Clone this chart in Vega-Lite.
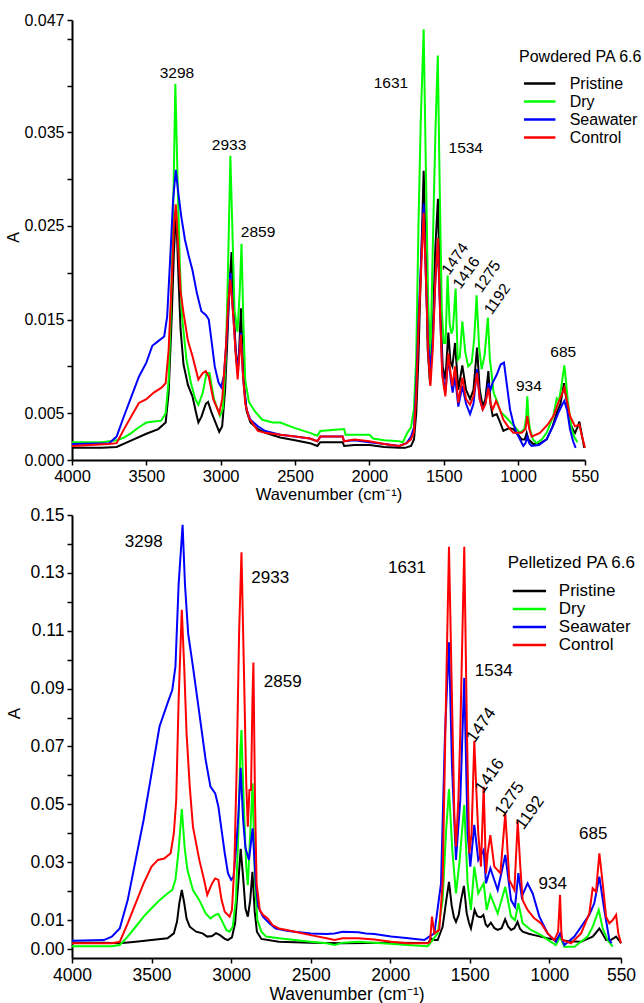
{
  "$schema": "https://vega.github.io/schema/vega-lite/v6.json",
  "background": "white",
  "padding": {"left": 5, "top": 12, "right": 0, "bottom": 0},
  "bounds": "flush",
  "spacing": 55,
  "config": {
    "view": {"stroke": null},
    "font": "Liberation Sans",
    "axis": {"domainColor": "black", "domainWidth": 2, "tickColor": "black", "tickWidth": 1.5, "tickSize": 5, "labelColor": "black", "titleColor": "black", "labelFont": "Liberation Sans", "titleFont": "Liberation Sans", "titleFontWeight": "normal", "grid": false, "labelOverlap": false, "labelBound": false, "labelFlush": false},
    "legend": {"titleFont": "Liberation Sans", "labelFont": "Liberation Sans", "titleFontWeight": "normal", "titleColor": "black", "labelColor": "black", "padding": 0}
  },
  "resolve": {"scale": {"color": "independent", "x": "independent", "y": "independent"}, "axis": {"x": "independent", "y": "independent"}, "legend": {"color": "independent"}},
  "datasets": {
    "powdered": [
      {"s":"Pristine","w":4000,"a":0.0013},{"s":"Pristine","w":3800,"a":0.0013},{"s":"Pristine","w":3700,"a":0.0014},{"s":"Pristine","w":3600,"a":0.0021},{"s":"Pristine","w":3500,"a":0.0028},{"s":"Pristine","w":3420,"a":0.0033},{"s":"Pristine","w":3370,"a":0.004},{"s":"Pristine","w":3350,"a":0.0072},{"s":"Pristine","w":3330,"a":0.015},{"s":"Pristine","w":3315,"a":0.022},{"s":"Pristine","w":3300,"a":0.0268},{"s":"Pristine","w":3285,"a":0.02},{"s":"Pristine","w":3270,"a":0.014},{"s":"Pristine","w":3250,"a":0.0102},{"s":"Pristine","w":3220,"a":0.008},{"s":"Pristine","w":3190,"a":0.0068},{"s":"Pristine","w":3165,"a":0.005},{"s":"Pristine","w":3150,"a":0.004},{"s":"Pristine","w":3130,"a":0.0046},{"s":"Pristine","w":3100,"a":0.006},{"s":"Pristine","w":3085,"a":0.0062},{"s":"Pristine","w":3060,"a":0.005},{"s":"Pristine","w":3030,"a":0.0038},{"s":"Pristine","w":3010,"a":0.003},{"s":"Pristine","w":2990,"a":0.0036},{"s":"Pristine","w":2970,"a":0.0075},{"s":"Pristine","w":2955,"a":0.013},{"s":"Pristine","w":2940,"a":0.019},{"s":"Pristine","w":2927,"a":0.0222},{"s":"Pristine","w":2915,"a":0.017},{"s":"Pristine","w":2900,"a":0.012},{"s":"Pristine","w":2887,"a":0.0093},{"s":"Pristine","w":2875,"a":0.012},{"s":"Pristine","w":2864,"a":0.0162},{"s":"Pristine","w":2852,"a":0.011},{"s":"Pristine","w":2840,"a":0.0075},{"s":"Pristine","w":2825,"a":0.0052},{"s":"Pristine","w":2800,"a":0.004},{"s":"Pristine","w":2750,"a":0.0033},{"s":"Pristine","w":2700,"a":0.0029},{"s":"Pristine","w":2600,"a":0.0024},{"s":"Pristine","w":2500,"a":0.0021},{"s":"Pristine","w":2400,"a":0.0018},{"s":"Pristine","w":2350,"a":0.0015},{"s":"Pristine","w":2330,"a":0.0019},{"s":"Pristine","w":2250,"a":0.0019},{"s":"Pristine","w":2180,"a":0.0019},{"s":"Pristine","w":2170,"a":0.0015},{"s":"Pristine","w":2100,"a":0.0016},{"s":"Pristine","w":2000,"a":0.0016},{"s":"Pristine","w":1900,"a":0.0014},{"s":"Pristine","w":1800,"a":0.0013},{"s":"Pristine","w":1760,"a":0.0013},{"s":"Pristine","w":1720,"a":0.0015},{"s":"Pristine","w":1700,"a":0.0022},{"s":"Pristine","w":1685,"a":0.005},{"s":"Pristine","w":1670,"a":0.011},{"s":"Pristine","w":1653,"a":0.0207},{"s":"Pristine","w":1635,"a":0.0309},{"s":"Pristine","w":1619,"a":0.0207},{"s":"Pristine","w":1608,"a":0.0118},{"s":"Pristine","w":1592,"a":0.0081},{"s":"Pristine","w":1574,"a":0.0136},{"s":"Pristine","w":1557,"a":0.0225},{"s":"Pristine","w":1539,"a":0.0279},{"s":"Pristine","w":1525,"a":0.0171},{"s":"Pristine","w":1507,"a":0.01},{"s":"Pristine","w":1489,"a":0.0086},{"s":"Pristine","w":1469,"a":0.0136},{"s":"Pristine","w":1455,"a":0.0105},{"s":"Pristine","w":1442,"a":0.01},{"s":"Pristine","w":1424,"a":0.0125},{"s":"Pristine","w":1402,"a":0.0075},{"s":"Pristine","w":1375,"a":0.0101},{"s":"Pristine","w":1350,"a":0.0075},{"s":"Pristine","w":1323,"a":0.0065},{"s":"Pristine","w":1300,"a":0.0075},{"s":"Pristine","w":1276,"a":0.012},{"s":"Pristine","w":1258,"a":0.0075},{"s":"Pristine","w":1238,"a":0.0057},{"s":"Pristine","w":1220,"a":0.0065},{"s":"Pristine","w":1200,"a":0.0095},{"s":"Pristine","w":1185,"a":0.006},{"s":"Pristine","w":1171,"a":0.0047},{"s":"Pristine","w":1144,"a":0.0049},{"s":"Pristine","w":1120,"a":0.004},{"s":"Pristine","w":1099,"a":0.0031},{"s":"Pristine","w":1060,"a":0.0034},{"s":"Pristine","w":1032,"a":0.0033},{"s":"Pristine","w":1000,"a":0.0027},{"s":"Pristine","w":976,"a":0.0022},{"s":"Pristine","w":955,"a":0.0022},{"s":"Pristine","w":942,"a":0.0029},{"s":"Pristine","w":930,"a":0.0022},{"s":"Pristine","w":897,"a":0.0017},{"s":"Pristine","w":850,"a":0.0018},{"s":"Pristine","w":808,"a":0.0022},{"s":"Pristine","w":770,"a":0.0035},{"s":"Pristine","w":741,"a":0.005},{"s":"Pristine","w":715,"a":0.006},{"s":"Pristine","w":691,"a":0.0082},{"s":"Pristine","w":670,"a":0.006},{"s":"Pristine","w":651,"a":0.004},{"s":"Pristine","w":630,"a":0.0032},{"s":"Pristine","w":617,"a":0.0029},{"s":"Pristine","w":600,"a":0.0035},{"s":"Pristine","w":588,"a":0.0041},{"s":"Pristine","w":575,"a":0.003},{"s":"Pristine","w":555,"a":0.0013},
      {"s":"Dry","w":4000,"a":0.0019},{"s":"Dry","w":3800,"a":0.0019},{"s":"Dry","w":3700,"a":0.0021},{"s":"Dry","w":3650,"a":0.0024},{"s":"Dry","w":3600,"a":0.0029},{"s":"Dry","w":3550,"a":0.0035},{"s":"Dry","w":3500,"a":0.004},{"s":"Dry","w":3450,"a":0.0041},{"s":"Dry","w":3400,"a":0.0042},{"s":"Dry","w":3370,"a":0.005},{"s":"Dry","w":3350,"a":0.0085},{"s":"Dry","w":3335,"a":0.016},{"s":"Dry","w":3320,"a":0.026},{"s":"Dry","w":3305,"a":0.0402},{"s":"Dry","w":3290,"a":0.03},{"s":"Dry","w":3275,"a":0.021},{"s":"Dry","w":3260,"a":0.0153},{"s":"Dry","w":3230,"a":0.0107},{"s":"Dry","w":3200,"a":0.0082},{"s":"Dry","w":3170,"a":0.0065},{"s":"Dry","w":3150,"a":0.0059},{"s":"Dry","w":3120,"a":0.0072},{"s":"Dry","w":3095,"a":0.0093},{"s":"Dry","w":3075,"a":0.0093},{"s":"Dry","w":3045,"a":0.0065},{"s":"Dry","w":3005,"a":0.0047},{"s":"Dry","w":2985,"a":0.0055},{"s":"Dry","w":2965,"a":0.011},{"s":"Dry","w":2950,"a":0.021},{"s":"Dry","w":2935,"a":0.0325},{"s":"Dry","w":2922,"a":0.025},{"s":"Dry","w":2907,"a":0.016},{"s":"Dry","w":2887,"a":0.0137},{"s":"Dry","w":2872,"a":0.018},{"s":"Dry","w":2860,"a":0.0231},{"s":"Dry","w":2848,"a":0.015},{"s":"Dry","w":2835,"a":0.0085},{"s":"Dry","w":2810,"a":0.0062},{"s":"Dry","w":2770,"a":0.0052},{"s":"Dry","w":2720,"a":0.0043},{"s":"Dry","w":2650,"a":0.004},{"s":"Dry","w":2600,"a":0.004},{"s":"Dry","w":2500,"a":0.0034},{"s":"Dry","w":2400,"a":0.0029},{"s":"Dry","w":2350,"a":0.0026},{"s":"Dry","w":2330,"a":0.0031},{"s":"Dry","w":2250,"a":0.0032},{"s":"Dry","w":2170,"a":0.0033},{"s":"Dry","w":2160,"a":0.0027},{"s":"Dry","w":2050,"a":0.0027},{"s":"Dry","w":2000,"a":0.0027},{"s":"Dry","w":1975,"a":0.0023},{"s":"Dry","w":1900,"a":0.0021},{"s":"Dry","w":1800,"a":0.002},{"s":"Dry","w":1775,"a":0.0019},{"s":"Dry","w":1745,"a":0.0029},{"s":"Dry","w":1720,"a":0.0035},{"s":"Dry","w":1700,"a":0.0055},{"s":"Dry","w":1685,"a":0.011},{"s":"Dry","w":1670,"a":0.025},{"s":"Dry","w":1655,"a":0.036},{"s":"Dry","w":1635,"a":0.046},{"s":"Dry","w":1620,"a":0.031},{"s":"Dry","w":1605,"a":0.017},{"s":"Dry","w":1590,"a":0.0105},{"s":"Dry","w":1572,"a":0.024},{"s":"Dry","w":1556,"a":0.035},{"s":"Dry","w":1540,"a":0.0432},{"s":"Dry","w":1527,"a":0.029},{"s":"Dry","w":1513,"a":0.016},{"s":"Dry","w":1500,"a":0.0125},{"s":"Dry","w":1488,"a":0.0125},{"s":"Dry","w":1474,"a":0.0197},{"s":"Dry","w":1460,"a":0.0145},{"s":"Dry","w":1448,"a":0.0135},{"s":"Dry","w":1438,"a":0.014},{"s":"Dry","w":1420,"a":0.0183},{"s":"Dry","w":1406,"a":0.0107},{"s":"Dry","w":1392,"a":0.011},{"s":"Dry","w":1375,"a":0.0148},{"s":"Dry","w":1355,"a":0.0115},{"s":"Dry","w":1335,"a":0.01},{"s":"Dry","w":1312,"a":0.0104},{"s":"Dry","w":1295,"a":0.013},{"s":"Dry","w":1279,"a":0.0176},{"s":"Dry","w":1262,"a":0.012},{"s":"Dry","w":1245,"a":0.0097},{"s":"Dry","w":1225,"a":0.0112},{"s":"Dry","w":1203,"a":0.0152},{"s":"Dry","w":1190,"a":0.0108},{"s":"Dry","w":1180,"a":0.0095},{"s":"Dry","w":1165,"a":0.0072},{"s":"Dry","w":1140,"a":0.0062},{"s":"Dry","w":1120,"a":0.0052},{"s":"Dry","w":1090,"a":0.0047},{"s":"Dry","w":1054,"a":0.0041},{"s":"Dry","w":1020,"a":0.0035},{"s":"Dry","w":987,"a":0.0029},{"s":"Dry","w":958,"a":0.0033},{"s":"Dry","w":946,"a":0.0045},{"s":"Dry","w":938,"a":0.0068},{"s":"Dry","w":930,"a":0.0045},{"s":"Dry","w":920,"a":0.0033},{"s":"Dry","w":900,"a":0.0022},{"s":"Dry","w":875,"a":0.0018},{"s":"Dry","w":840,"a":0.0022},{"s":"Dry","w":808,"a":0.0029},{"s":"Dry","w":763,"a":0.0047},{"s":"Dry","w":740,"a":0.0066},{"s":"Dry","w":725,"a":0.0063},{"s":"Dry","w":705,"a":0.0083},{"s":"Dry","w":689,"a":0.0101},{"s":"Dry","w":677,"a":0.0083},{"s":"Dry","w":665,"a":0.0062},{"s":"Dry","w":640,"a":0.0033},{"s":"Dry","w":620,"a":0.0024},{"s":"Dry","w":601,"a":0.0019},
      {"s":"Seawater","w":4000,"a":0.0017},{"s":"Seawater","w":3750,"a":0.0018},{"s":"Seawater","w":3700,"a":0.0025},{"s":"Seawater","w":3650,"a":0.0047},{"s":"Seawater","w":3600,"a":0.0068},{"s":"Seawater","w":3550,"a":0.0089},{"s":"Seawater","w":3500,"a":0.0104},{"s":"Seawater","w":3460,"a":0.0122},{"s":"Seawater","w":3420,"a":0.0127},{"s":"Seawater","w":3380,"a":0.0132},{"s":"Seawater","w":3360,"a":0.0153},{"s":"Seawater","w":3340,"a":0.0214},{"s":"Seawater","w":3320,"a":0.0278},{"s":"Seawater","w":3302,"a":0.031},{"s":"Seawater","w":3285,"a":0.0285},{"s":"Seawater","w":3265,"a":0.026},{"s":"Seawater","w":3240,"a":0.0235},{"s":"Seawater","w":3215,"a":0.0218},{"s":"Seawater","w":3190,"a":0.0203},{"s":"Seawater","w":3160,"a":0.0178},{"s":"Seawater","w":3130,"a":0.0159},{"s":"Seawater","w":3100,"a":0.0155},{"s":"Seawater","w":3080,"a":0.015},{"s":"Seawater","w":3060,"a":0.0125},{"s":"Seawater","w":3040,"a":0.01},{"s":"Seawater","w":3015,"a":0.0083},{"s":"Seawater","w":2997,"a":0.0078},{"s":"Seawater","w":2978,"a":0.009},{"s":"Seawater","w":2958,"a":0.0135},{"s":"Seawater","w":2935,"a":0.02},{"s":"Seawater","w":2915,"a":0.0153},{"s":"Seawater","w":2895,"a":0.0107},{"s":"Seawater","w":2883,"a":0.01},{"s":"Seawater","w":2865,"a":0.0136},{"s":"Seawater","w":2848,"a":0.0085},{"s":"Seawater","w":2828,"a":0.0055},{"s":"Seawater","w":2800,"a":0.0043},{"s":"Seawater","w":2750,"a":0.0036},{"s":"Seawater","w":2700,"a":0.0031},{"s":"Seawater","w":2600,"a":0.0027},{"s":"Seawater","w":2500,"a":0.0025},{"s":"Seawater","w":2400,"a":0.0023},{"s":"Seawater","w":2350,"a":0.002},{"s":"Seawater","w":2330,"a":0.0025},{"s":"Seawater","w":2180,"a":0.0025},{"s":"Seawater","w":2170,"a":0.002},{"s":"Seawater","w":2100,"a":0.0021},{"s":"Seawater","w":2000,"a":0.0019},{"s":"Seawater","w":1900,"a":0.0017},{"s":"Seawater","w":1800,"a":0.0015},{"s":"Seawater","w":1750,"a":0.0018},{"s":"Seawater","w":1720,"a":0.0025},{"s":"Seawater","w":1700,"a":0.0035},{"s":"Seawater","w":1685,"a":0.008},{"s":"Seawater","w":1670,"a":0.015},{"s":"Seawater","w":1653,"a":0.021},{"s":"Seawater","w":1635,"a":0.0274},{"s":"Seawater","w":1619,"a":0.019},{"s":"Seawater","w":1605,"a":0.0125},{"s":"Seawater","w":1590,"a":0.0097},{"s":"Seawater","w":1573,"a":0.013},{"s":"Seawater","w":1557,"a":0.019},{"s":"Seawater","w":1539,"a":0.0232},{"s":"Seawater","w":1525,"a":0.016},{"s":"Seawater","w":1510,"a":0.0095},{"s":"Seawater","w":1489,"a":0.0072},{"s":"Seawater","w":1469,"a":0.011},{"s":"Seawater","w":1452,"a":0.0085},{"s":"Seawater","w":1440,"a":0.0072},{"s":"Seawater","w":1424,"a":0.0089},{"s":"Seawater","w":1402,"a":0.0057},{"s":"Seawater","w":1375,"a":0.0079},{"s":"Seawater","w":1350,"a":0.006},{"s":"Seawater","w":1323,"a":0.0049},{"s":"Seawater","w":1300,"a":0.006},{"s":"Seawater","w":1276,"a":0.0097},{"s":"Seawater","w":1258,"a":0.0065},{"s":"Seawater","w":1238,"a":0.0054},{"s":"Seawater","w":1220,"a":0.006},{"s":"Seawater","w":1200,"a":0.0082},{"s":"Seawater","w":1185,"a":0.0075},{"s":"Seawater","w":1170,"a":0.0083},{"s":"Seawater","w":1160,"a":0.0086},{"s":"Seawater","w":1144,"a":0.0091},{"s":"Seawater","w":1117,"a":0.0102},{"s":"Seawater","w":1095,"a":0.0104},{"s":"Seawater","w":1077,"a":0.0082},{"s":"Seawater","w":1054,"a":0.0054},{"s":"Seawater","w":1030,"a":0.0038},{"s":"Seawater","w":1010,"a":0.0029},{"s":"Seawater","w":965,"a":0.0015},{"s":"Seawater","w":950,"a":0.0018},{"s":"Seawater","w":938,"a":0.0025},{"s":"Seawater","w":925,"a":0.0018},{"s":"Seawater","w":909,"a":0.0015},{"s":"Seawater","w":860,"a":0.0016},{"s":"Seawater","w":808,"a":0.0022},{"s":"Seawater","w":760,"a":0.0038},{"s":"Seawater","w":730,"a":0.005},{"s":"Seawater","w":700,"a":0.006},{"s":"Seawater","w":689,"a":0.0063},{"s":"Seawater","w":670,"a":0.0053},{"s":"Seawater","w":651,"a":0.0033},{"s":"Seawater","w":630,"a":0.002},{"s":"Seawater","w":613,"a":0.0013},
      {"s":"Control","w":4000,"a":0.0015},{"s":"Control","w":3750,"a":0.0017},{"s":"Control","w":3700,"a":0.0018},{"s":"Control","w":3650,"a":0.0033},{"s":"Control","w":3600,"a":0.0047},{"s":"Control","w":3550,"a":0.0061},{"s":"Control","w":3500,"a":0.0065},{"s":"Control","w":3450,"a":0.0072},{"s":"Control","w":3400,"a":0.0077},{"s":"Control","w":3370,"a":0.0082},{"s":"Control","w":3350,"a":0.0118},{"s":"Control","w":3330,"a":0.019},{"s":"Control","w":3315,"a":0.025},{"s":"Control","w":3302,"a":0.0273},{"s":"Control","w":3285,"a":0.0225},{"s":"Control","w":3270,"a":0.018},{"s":"Control","w":3250,"a":0.0157},{"s":"Control","w":3220,"a":0.0127},{"s":"Control","w":3190,"a":0.0111},{"s":"Control","w":3150,"a":0.0086},{"s":"Control","w":3120,"a":0.0093},{"s":"Control","w":3100,"a":0.0095},{"s":"Control","w":3080,"a":0.0089},{"s":"Control","w":3050,"a":0.0065},{"s":"Control","w":3010,"a":0.005},{"s":"Control","w":2990,"a":0.0065},{"s":"Control","w":2965,"a":0.012},{"s":"Control","w":2950,"a":0.0165},{"s":"Control","w":2935,"a":0.0193},{"s":"Control","w":2915,"a":0.0153},{"s":"Control","w":2900,"a":0.0115},{"s":"Control","w":2886,"a":0.0086},{"s":"Control","w":2875,"a":0.011},{"s":"Control","w":2865,"a":0.0134},{"s":"Control","w":2852,"a":0.0095},{"s":"Control","w":2835,"a":0.006},{"s":"Control","w":2810,"a":0.0045},{"s":"Control","w":2750,"a":0.0031},{"s":"Control","w":2700,"a":0.0029},{"s":"Control","w":2600,"a":0.0027},{"s":"Control","w":2500,"a":0.0025},{"s":"Control","w":2400,"a":0.0023},{"s":"Control","w":2350,"a":0.002},{"s":"Control","w":2330,"a":0.0025},{"s":"Control","w":2180,"a":0.0025},{"s":"Control","w":2170,"a":0.002},{"s":"Control","w":2100,"a":0.0022},{"s":"Control","w":2000,"a":0.002},{"s":"Control","w":1900,"a":0.0017},{"s":"Control","w":1800,"a":0.0015},{"s":"Control","w":1750,"a":0.0018},{"s":"Control","w":1720,"a":0.0022},{"s":"Control","w":1700,"a":0.003},{"s":"Control","w":1685,"a":0.007},{"s":"Control","w":1670,"a":0.014},{"s":"Control","w":1653,"a":0.02},{"s":"Control","w":1635,"a":0.0264},{"s":"Control","w":1619,"a":0.019},{"s":"Control","w":1605,"a":0.0115},{"s":"Control","w":1590,"a":0.0079},{"s":"Control","w":1573,"a":0.012},{"s":"Control","w":1557,"a":0.019},{"s":"Control","w":1539,"a":0.0237},{"s":"Control","w":1525,"a":0.016},{"s":"Control","w":1510,"a":0.009},{"s":"Control","w":1489,"a":0.0068},{"s":"Control","w":1469,"a":0.0114},{"s":"Control","w":1452,"a":0.009},{"s":"Control","w":1442,"a":0.0079},{"s":"Control","w":1424,"a":0.01},{"s":"Control","w":1402,"a":0.0061},{"s":"Control","w":1375,"a":0.0088},{"s":"Control","w":1350,"a":0.0065},{"s":"Control","w":1323,"a":0.0059},{"s":"Control","w":1300,"a":0.0068},{"s":"Control","w":1276,"a":0.0093},{"s":"Control","w":1258,"a":0.0065},{"s":"Control","w":1238,"a":0.0054},{"s":"Control","w":1220,"a":0.006},{"s":"Control","w":1200,"a":0.0077},{"s":"Control","w":1185,"a":0.006},{"s":"Control","w":1171,"a":0.0054},{"s":"Control","w":1148,"a":0.0063},{"s":"Control","w":1125,"a":0.0055},{"s":"Control","w":1099,"a":0.0043},{"s":"Control","w":1060,"a":0.0034},{"s":"Control","w":1032,"a":0.0029},{"s":"Control","w":976,"a":0.0029},{"s":"Control","w":950,"a":0.0033},{"s":"Control","w":938,"a":0.0047},{"s":"Control","w":925,"a":0.0033},{"s":"Control","w":909,"a":0.0025},{"s":"Control","w":853,"a":0.0029},{"s":"Control","w":800,"a":0.0038},{"s":"Control","w":763,"a":0.0047},{"s":"Control","w":730,"a":0.0061},{"s":"Control","w":705,"a":0.007},{"s":"Control","w":689,"a":0.0077},{"s":"Control","w":670,"a":0.0062},{"s":"Control","w":651,"a":0.0047},{"s":"Control","w":630,"a":0.004},{"s":"Control","w":617,"a":0.0036},{"s":"Control","w":600,"a":0.0037},{"s":"Control","w":588,"a":0.0038},{"s":"Control","w":570,"a":0.0025},{"s":"Control","w":550,"a":0.0013}
    ],
    "pelletized": [
      {"s":"Pristine","w":4000,"a":0.0022},{"s":"Pristine","w":3800,"a":0.0022},{"s":"Pristine","w":3700,"a":0.002},{"s":"Pristine","w":3600,"a":0.0025},{"s":"Pristine","w":3500,"a":0.0031},{"s":"Pristine","w":3400,"a":0.0037},{"s":"Pristine","w":3360,"a":0.0054},{"s":"Pristine","w":3340,"a":0.0095},{"s":"Pristine","w":3325,"a":0.016},{"s":"Pristine","w":3310,"a":0.0204},{"s":"Pristine","w":3295,"a":0.016},{"s":"Pristine","w":3280,"a":0.0105},{"s":"Pristine","w":3260,"a":0.0077},{"s":"Pristine","w":3220,"a":0.006},{"s":"Pristine","w":3180,"a":0.0054},{"s":"Pristine","w":3150,"a":0.0043},{"s":"Pristine","w":3120,"a":0.0045},{"s":"Pristine","w":3095,"a":0.0055},{"s":"Pristine","w":3070,"a":0.0048},{"s":"Pristine","w":3040,"a":0.0035},{"s":"Pristine","w":3020,"a":0.0031},{"s":"Pristine","w":2995,"a":0.004},{"s":"Pristine","w":2975,"a":0.009},{"s":"Pristine","w":2955,"a":0.023},{"s":"Pristine","w":2940,"a":0.0346},{"s":"Pristine","w":2925,"a":0.025},{"s":"Pristine","w":2910,"a":0.014},{"s":"Pristine","w":2895,"a":0.0112},{"s":"Pristine","w":2880,"a":0.0169},{"s":"Pristine","w":2866,"a":0.0267},{"s":"Pristine","w":2852,"a":0.013},{"s":"Pristine","w":2838,"a":0.006},{"s":"Pristine","w":2810,"a":0.0035},{"s":"Pristine","w":2700,"a":0.0025},{"s":"Pristine","w":2500,"a":0.0022},{"s":"Pristine","w":2300,"a":0.002},{"s":"Pristine","w":2000,"a":0.0022},{"s":"Pristine","w":1800,"a":0.0021},{"s":"Pristine","w":1760,"a":0.0022},{"s":"Pristine","w":1744,"a":0.0037},{"s":"Pristine","w":1725,"a":0.0031},{"s":"Pristine","w":1702,"a":0.0031},{"s":"Pristine","w":1671,"a":0.0077},{"s":"Pristine","w":1650,"a":0.016},{"s":"Pristine","w":1631,"a":0.0232},{"s":"Pristine","w":1614,"a":0.015},{"s":"Pristine","w":1600,"a":0.011},{"s":"Pristine","w":1587,"a":0.0094},{"s":"Pristine","w":1570,"a":0.0118},{"s":"Pristine","w":1555,"a":0.017},{"s":"Pristine","w":1537,"a":0.0218},{"s":"Pristine","w":1520,"a":0.0125},{"s":"Pristine","w":1505,"a":0.009},{"s":"Pristine","w":1493,"a":0.0071},{"s":"Pristine","w":1470,"a":0.0135},{"s":"Pristine","w":1455,"a":0.0115},{"s":"Pristine","w":1447,"a":0.0112},{"s":"Pristine","w":1430,"a":0.011},{"s":"Pristine","w":1415,"a":0.0118},{"s":"Pristine","w":1400,"a":0.0085},{"s":"Pristine","w":1388,"a":0.0077},{"s":"Pristine","w":1368,"a":0.0091},{"s":"Pristine","w":1345,"a":0.0072},{"s":"Pristine","w":1325,"a":0.0066},{"s":"Pristine","w":1300,"a":0.0072},{"s":"Pristine","w":1278,"a":0.0103},{"s":"Pristine","w":1260,"a":0.0078},{"s":"Pristine","w":1241,"a":0.0066},{"s":"Pristine","w":1220,"a":0.0072},{"s":"Pristine","w":1200,"a":0.0094},{"s":"Pristine","w":1185,"a":0.007},{"s":"Pristine","w":1168,"a":0.006},{"s":"Pristine","w":1130,"a":0.0053},{"s":"Pristine","w":1095,"a":0.0048},{"s":"Pristine","w":1050,"a":0.0042},{"s":"Pristine","w":1011,"a":0.0037},{"s":"Pristine","w":959,"a":0.0031},{"s":"Pristine","w":945,"a":0.0035},{"s":"Pristine","w":933,"a":0.0048},{"s":"Pristine","w":920,"a":0.003},{"s":"Pristine","w":880,"a":0.0027},{"s":"Pristine","w":801,"a":0.0025},{"s":"Pristine","w":760,"a":0.0035},{"s":"Pristine","w":728,"a":0.0043},{"s":"Pristine","w":705,"a":0.0058},{"s":"Pristine","w":686,"a":0.0071},{"s":"Pristine","w":665,"a":0.0052},{"s":"Pristine","w":644,"a":0.0031},{"s":"Pristine","w":613,"a":0.0032},{"s":"Pristine","w":595,"a":0.0038},{"s":"Pristine","w":581,"a":0.0043},{"s":"Pristine","w":565,"a":0.0032},{"s":"Pristine","w":550,"a":0.002},
      {"s":"Dry","w":4000,"a":0.001},{"s":"Dry","w":3750,"a":0.001},{"s":"Dry","w":3700,"a":0.0014},{"s":"Dry","w":3650,"a":0.0043},{"s":"Dry","w":3600,"a":0.0077},{"s":"Dry","w":3550,"a":0.0112},{"s":"Dry","w":3500,"a":0.0141},{"s":"Dry","w":3450,"a":0.0169},{"s":"Dry","w":3400,"a":0.0192},{"s":"Dry","w":3370,"a":0.0204},{"s":"Dry","w":3350,"a":0.0239},{"s":"Dry","w":3330,"a":0.0342},{"s":"Dry","w":3310,"a":0.0484},{"s":"Dry","w":3292,"a":0.035},{"s":"Dry","w":3275,"a":0.0275},{"s":"Dry","w":3240,"a":0.0204},{"s":"Dry","w":3200,"a":0.0169},{"s":"Dry","w":3160,"a":0.0123},{"s":"Dry","w":3130,"a":0.0106},{"s":"Dry","w":3100,"a":0.0118},{"s":"Dry","w":3080,"a":0.0121},{"s":"Dry","w":3060,"a":0.01},{"s":"Dry","w":3030,"a":0.0066},{"s":"Dry","w":3010,"a":0.006},{"s":"Dry","w":2990,"a":0.0077},{"s":"Dry","w":2970,"a":0.0169},{"s":"Dry","w":2955,"a":0.04},{"s":"Dry","w":2942,"a":0.0688},{"s":"Dry","w":2935,"a":0.0757},{"s":"Dry","w":2922,"a":0.052},{"s":"Dry","w":2905,"a":0.0285},{"s":"Dry","w":2895,"a":0.0221},{"s":"Dry","w":2880,"a":0.04},{"s":"Dry","w":2865,"a":0.0573},{"s":"Dry","w":2850,"a":0.0227},{"s":"Dry","w":2835,"a":0.01},{"s":"Dry","w":2810,"a":0.006},{"s":"Dry","w":2780,"a":0.0043},{"s":"Dry","w":2700,"a":0.0037},{"s":"Dry","w":2600,"a":0.0031},{"s":"Dry","w":2500,"a":0.0025},{"s":"Dry","w":2400,"a":0.002},{"s":"Dry","w":2350,"a":0.0014},{"s":"Dry","w":2300,"a":0.0022},{"s":"Dry","w":2200,"a":0.0025},{"s":"Dry","w":2000,"a":0.0018},{"s":"Dry","w":1891,"a":0.0014},{"s":"Dry","w":1765,"a":0.001},{"s":"Dry","w":1734,"a":0.0031},{"s":"Dry","w":1702,"a":0.0054},{"s":"Dry","w":1671,"a":0.0169},{"s":"Dry","w":1650,"a":0.04},{"s":"Dry","w":1631,"a":0.0553},{"s":"Dry","w":1610,"a":0.034},{"s":"Dry","w":1587,"a":0.0192},{"s":"Dry","w":1565,"a":0.03},{"s":"Dry","w":1550,"a":0.04},{"s":"Dry","w":1535,"a":0.0498},{"s":"Dry","w":1514,"a":0.0227},{"s":"Dry","w":1493,"a":0.0135},{"s":"Dry","w":1472,"a":0.0285},{"s":"Dry","w":1447,"a":0.0192},{"s":"Dry","w":1413,"a":0.0227},{"s":"Dry","w":1394,"a":0.0135},{"s":"Dry","w":1371,"a":0.0187},{"s":"Dry","w":1325,"a":0.0123},{"s":"Dry","w":1277,"a":0.0215},{"s":"Dry","w":1241,"a":0.0112},{"s":"Dry","w":1216,"a":0.01},{"s":"Dry","w":1195,"a":0.0158},{"s":"Dry","w":1168,"a":0.0089},{"s":"Dry","w":1116,"a":0.0066},{"s":"Dry","w":1053,"a":0.0048},{"s":"Dry","w":990,"a":0.0025},{"s":"Dry","w":959,"a":0.0014},{"s":"Dry","w":933,"a":0.0043},{"s":"Dry","w":906,"a":0.0008},{"s":"Dry","w":843,"a":0.0008},{"s":"Dry","w":760,"a":0.0043},{"s":"Dry","w":728,"a":0.0077},{"s":"Dry","w":690,"a":0.0135},{"s":"Dry","w":665,"a":0.0071},{"s":"Dry","w":634,"a":0.0031},{"s":"Dry","w":602,"a":0.0008},
      {"s":"Seawater","w":4000,"a":0.0029},{"s":"Seawater","w":3800,"a":0.0031},{"s":"Seawater","w":3750,"a":0.0043},{"s":"Seawater","w":3700,"a":0.0071},{"s":"Seawater","w":3650,"a":0.0169},{"s":"Seawater","w":3600,"a":0.0308},{"s":"Seawater","w":3550,"a":0.0446},{"s":"Seawater","w":3500,"a":0.0607},{"s":"Seawater","w":3450,"a":0.0769},{"s":"Seawater","w":3400,"a":0.0849},{"s":"Seawater","w":3370,"a":0.0895},{"s":"Seawater","w":3350,"a":0.0976},{"s":"Seawater","w":3330,"a":0.126},{"s":"Seawater","w":3305,"a":0.1466},{"s":"Seawater","w":3290,"a":0.126},{"s":"Seawater","w":3270,"a":0.109},{"s":"Seawater","w":3240,"a":0.0976},{"s":"Seawater","w":3200,"a":0.0815},{"s":"Seawater","w":3160,"a":0.0653},{"s":"Seawater","w":3130,"a":0.0561},{"s":"Seawater","w":3100,"a":0.0538},{"s":"Seawater","w":3080,"a":0.0492},{"s":"Seawater","w":3060,"a":0.0411},{"s":"Seawater","w":3040,"a":0.0331},{"s":"Seawater","w":3020,"a":0.0262},{"s":"Seawater","w":3000,"a":0.0239},{"s":"Seawater","w":2985,"a":0.025},{"s":"Seawater","w":2970,"a":0.0342},{"s":"Seawater","w":2955,"a":0.0457},{"s":"Seawater","w":2940,"a":0.0626},{"s":"Seawater","w":2925,"a":0.045},{"s":"Seawater","w":2910,"a":0.035},{"s":"Seawater","w":2888,"a":0.0308},{"s":"Seawater","w":2865,"a":0.0417},{"s":"Seawater","w":2845,"a":0.0227},{"s":"Seawater","w":2830,"a":0.0146},{"s":"Seawater","w":2800,"a":0.0112},{"s":"Seawater","w":2760,"a":0.0089},{"s":"Seawater","w":2720,"a":0.0071},{"s":"Seawater","w":2650,"a":0.0063},{"s":"Seawater","w":2600,"a":0.006},{"s":"Seawater","w":2500,"a":0.0054},{"s":"Seawater","w":2400,"a":0.0052},{"s":"Seawater","w":2350,"a":0.0054},{"s":"Seawater","w":2300,"a":0.006},{"s":"Seawater","w":2200,"a":0.0058},{"s":"Seawater","w":2153,"a":0.0054},{"s":"Seawater","w":2100,"a":0.0052},{"s":"Seawater","w":1995,"a":0.0043},{"s":"Seawater","w":1900,"a":0.0038},{"s":"Seawater","w":1786,"a":0.0031},{"s":"Seawater","w":1755,"a":0.0043},{"s":"Seawater","w":1723,"a":0.0054},{"s":"Seawater","w":1681,"a":0.0227},{"s":"Seawater","w":1656,"a":0.0745},{"s":"Seawater","w":1631,"a":0.106},{"s":"Seawater","w":1612,"a":0.063},{"s":"Seawater","w":1587,"a":0.0308},{"s":"Seawater","w":1560,"a":0.0515},{"s":"Seawater","w":1535,"a":0.0937},{"s":"Seawater","w":1514,"a":0.04},{"s":"Seawater","w":1497,"a":0.0285},{"s":"Seawater","w":1472,"a":0.0429},{"s":"Seawater","w":1447,"a":0.0308},{"s":"Seawater","w":1413,"a":0.0342},{"s":"Seawater","w":1398,"a":0.0227},{"s":"Seawater","w":1371,"a":0.0279},{"s":"Seawater","w":1325,"a":0.0204},{"s":"Seawater","w":1277,"a":0.0325},{"s":"Seawater","w":1241,"a":0.0169},{"s":"Seawater","w":1216,"a":0.0146},{"s":"Seawater","w":1195,"a":0.0262},{"s":"Seawater","w":1174,"a":0.0181},{"s":"Seawater","w":1137,"a":0.0227},{"s":"Seawater","w":1105,"a":0.0192},{"s":"Seawater","w":1063,"a":0.0112},{"s":"Seawater","w":1011,"a":0.0054},{"s":"Seawater","w":959,"a":0.0025},{"s":"Seawater","w":933,"a":0.0054},{"s":"Seawater","w":906,"a":0.0014},{"s":"Seawater","w":843,"a":0.0043},{"s":"Seawater","w":749,"a":0.0118},{"s":"Seawater","w":718,"a":0.0158},{"s":"Seawater","w":686,"a":0.025},{"s":"Seawater","w":655,"a":0.0135},{"s":"Seawater","w":623,"a":0.0031},{"s":"Seawater","w":609,"a":0.002},
      {"s":"Control","w":4000,"a":0.002},{"s":"Control","w":3750,"a":0.002},{"s":"Control","w":3700,"a":0.0025},{"s":"Control","w":3650,"a":0.0089},{"s":"Control","w":3600,"a":0.0158},{"s":"Control","w":3550,"a":0.0227},{"s":"Control","w":3500,"a":0.0285},{"s":"Control","w":3460,"a":0.0308},{"s":"Control","w":3420,"a":0.0313},{"s":"Control","w":3380,"a":0.0331},{"s":"Control","w":3360,"a":0.04},{"s":"Control","w":3345,"a":0.0515},{"s":"Control","w":3330,"a":0.086},{"s":"Control","w":3310,"a":0.1172},{"s":"Control","w":3295,"a":0.0976},{"s":"Control","w":3280,"a":0.0745},{"s":"Control","w":3260,"a":0.0561},{"s":"Control","w":3240,"a":0.0423},{"s":"Control","w":3220,"a":0.0365},{"s":"Control","w":3200,"a":0.0308},{"s":"Control","w":3170,"a":0.0239},{"s":"Control","w":3150,"a":0.0187},{"s":"Control","w":3120,"a":0.0227},{"s":"Control","w":3100,"a":0.0244},{"s":"Control","w":3080,"a":0.0239},{"s":"Control","w":3060,"a":0.0169},{"s":"Control","w":3040,"a":0.0129},{"s":"Control","w":3010,"a":0.0112},{"s":"Control","w":2995,"a":0.0135},{"s":"Control","w":2980,"a":0.0285},{"s":"Control","w":2965,"a":0.063},{"s":"Control","w":2950,"a":0.109},{"s":"Control","w":2935,"a":0.1371},{"s":"Control","w":2920,"a":0.0976},{"s":"Control","w":2905,"a":0.0573},{"s":"Control","w":2895,"a":0.0423},{"s":"Control","w":2885,"a":0.055},{"s":"Control","w":2875,"a":0.055},{"s":"Control","w":2866,"a":0.086},{"s":"Control","w":2860,"a":0.099},{"s":"Control","w":2850,"a":0.0515},{"s":"Control","w":2840,"a":0.0227},{"s":"Control","w":2820,"a":0.0135},{"s":"Control","w":2800,"a":0.0118},{"s":"Control","w":2770,"a":0.0106},{"s":"Control","w":2740,"a":0.0083},{"s":"Control","w":2700,"a":0.0071},{"s":"Control","w":2650,"a":0.0066},{"s":"Control","w":2600,"a":0.006},{"s":"Control","w":2500,"a":0.0048},{"s":"Control","w":2400,"a":0.0037},{"s":"Control","w":2350,"a":0.0031},{"s":"Control","w":2300,"a":0.0037},{"s":"Control","w":2200,"a":0.0037},{"s":"Control","w":2100,"a":0.0033},{"s":"Control","w":1995,"a":0.0025},{"s":"Control","w":1891,"a":0.002},{"s":"Control","w":1765,"a":0.002},{"s":"Control","w":1750,"a":0.0025},{"s":"Control","w":1738,"a":0.0112},{"s":"Control","w":1723,"a":0.0054},{"s":"Control","w":1692,"a":0.0066},{"s":"Control","w":1671,"a":0.0227},{"s":"Control","w":1650,"a":0.086},{"s":"Control","w":1631,"a":0.139},{"s":"Control","w":1612,"a":0.086},{"s":"Control","w":1597,"a":0.0457},{"s":"Control","w":1587,"a":0.0354},{"s":"Control","w":1572,"a":0.0515},{"s":"Control","w":1560,"a":0.0745},{"s":"Control","w":1535,"a":0.139},{"s":"Control","w":1518,"a":0.0745},{"s":"Control","w":1503,"a":0.0331},{"s":"Control","w":1489,"a":0.04},{"s":"Control","w":1472,"a":0.072},{"s":"Control","w":1461,"a":0.0573},{"s":"Control","w":1447,"a":0.04},{"s":"Control","w":1430,"a":0.0285},{"s":"Control","w":1413,"a":0.0561},{"s":"Control","w":1398,"a":0.0262},{"s":"Control","w":1388,"a":0.0331},{"s":"Control","w":1371,"a":0.0394},{"s":"Control","w":1346,"a":0.0285},{"s":"Control","w":1308,"a":0.0262},{"s":"Control","w":1277,"a":0.0469},{"s":"Control","w":1252,"a":0.0239},{"s":"Control","w":1220,"a":0.0204},{"s":"Control","w":1199,"a":0.044},{"s":"Control","w":1183,"a":0.0285},{"s":"Control","w":1168,"a":0.0169},{"s":"Control","w":1137,"a":0.0135},{"s":"Control","w":1095,"a":0.0106},{"s":"Control","w":1053,"a":0.0089},{"s":"Control","w":1011,"a":0.0054},{"s":"Control","w":969,"a":0.0031},{"s":"Control","w":945,"a":0.006},{"s":"Control","w":933,"a":0.0187},{"s":"Control","w":925,"a":0.006},{"s":"Control","w":919,"a":0.0031},{"s":"Control","w":864,"a":0.002},{"s":"Control","w":801,"a":0.0054},{"s":"Control","w":749,"a":0.0123},{"s":"Control","w":728,"a":0.021},{"s":"Control","w":707,"a":0.0198},{"s":"Control","w":686,"a":0.0331},{"s":"Control","w":665,"a":0.0227},{"s":"Control","w":644,"a":0.0112},{"s":"Control","w":623,"a":0.0089},{"s":"Control","w":602,"a":0.01},{"s":"Control","w":581,"a":0.0118},{"s":"Control","w":567,"a":0.0054},{"s":"Control","w":550,"a":0.002}
    ],
    "labP": [
      {"t":"3298","w":3294,"a":0.0413},{"t":"2933","w":2944,"a":0.0337},{"t":"2859","w":2749,"a":0.0244},{"t":"1631","w":1855,"a":0.0403},{"t":"1534","w":1352,"a":0.0333},{"t":"934","w":927,"a":0.0079},{"t":"685","w":696,"a":0.0115}
    ],
    "labPr": [
      {"t":"1474","w":1424,"a":0.0215},{"t":"1416","w":1348,"a":0.02},{"t":"1275","w":1207,"a":0.0196},{"t":"1192","w":1140,"a":0.0172}
    ],
    "labL": [
      {"t":"3298","w":3549,"a":0.1408},{"t":"2933","w":2754,"a":0.1283},{"t":"2859","w":2676,"a":0.0924},{"t":"1631","w":1895,"a":0.1316},{"t":"1534","w":1350,"a":0.0961},{"t":"934","w":979,"a":0.0225},{"t":"685","w":724,"a":0.0396}
    ],
    "labLr": [
      {"t":"1474","w":1428,"a":0.0774},{"t":"1416","w":1375,"a":0.0598},{"t":"1275","w":1249,"a":0.0517},{"t":"1192","w":1122,"a":0.0471}
    ]
  },
  "vconcat": [
    {
      "width": 513,
      "height": 440,
      "layer": [
        {
          "data": {"name": "powdered"},
          "mark": {"type": "line", "strokeWidth": 2},
          "encoding": {
            "x": {"field": "w", "type": "quantitative", "scale": {"domain": [550, 4000], "reverse": true, "nice": false, "zero": false},
              "axis": {"values": [4000, 3500, 3000, 2500, 2000, 1500, 1000, 550], "format": "d", "labelOverlap": false, "labelFontSize": 16.5, "labelPadding": 3, "title": "Wavenumber (cm⁻¹)", "titleFontSize": 16.5, "titlePadding": 2}},
            "y": {"field": "a", "type": "quantitative", "scale": {"domain": [0, 0.047], "nice": false, "zero": false},
              "axis": {"values": [0, 0.005, 0.01, 0.015, 0.02, 0.025, 0.03, 0.035, 0.04, 0.045, 0.047], "labelOverlap": false, "labelExpr": "(round(datum.value * 1000) == 0 || round(datum.value * 1000) == 5 || round(datum.value * 1000) == 15 || round(datum.value * 1000) == 25 || round(datum.value * 1000) == 35 || round(datum.value * 1000) == 47) ? format(datum.value, '.3f') : ''", "labelFontSize": 16, "labelPadding": 3, "title": "A", "titleFontSize": 16, "titleX": -59, "titleY": 217, "titleAngle": 270, "titleBaseline": "middle"}},
            "color": {"field": "s", "type": "nominal",
              "scale": {"domain": ["Pristine", "Dry", "Seawater", "Control"], "range": ["#000000", "#00ff00", "#0000ff", "#ff0000"]},
              "legend": {"title": "Powdered PA 6.6", "orient": "none", "legendX": 447, "legendY": 28.5, "titleFontSize": 16, "titlePadding": 11, "labelFontSize": 16, "symbolType": "M-3,0H3", "symbolSize": 110, "symbolStrokeWidth": 2.5, "symbolOffset": 12.7, "labelOffset": 22, "rowPadding": 2}}
          }
        },
        {
          "data": {"name": "labP"},
          "mark": {"type": "text", "fontSize": 15.5, "color": "black", "align": "center", "baseline": "middle"},
          "encoding": {"x": {"field": "w", "type": "quantitative"}, "y": {"field": "a", "type": "quantitative"}, "text": {"field": "t"}}
        },
        {
          "data": {"name": "labPr"},
          "mark": {"type": "text", "fontSize": 15.5, "color": "black", "align": "center", "baseline": "middle", "angle": 305},
          "encoding": {"x": {"field": "w", "type": "quantitative"}, "y": {"field": "a", "type": "quantitative"}, "text": {"field": "t"}}
        }
      ]
    },
    {
      "width": 549,
      "height": 443,
      "resolve": {"axis": {"y": "independent"}},
      "layer": [
        {
          "data": {"name": "pelletized"},
          "mark": {"type": "line", "strokeWidth": 2},
          "encoding": {
            "x": {"field": "w", "type": "quantitative", "scale": {"domain": [550, 4000], "reverse": true, "nice": false, "zero": false},
              "axis": {"values": [4000, 3500, 3000, 2500, 2000, 1500, 1000, 550], "format": "d", "labelOverlap": false, "labelFontSize": 17.5, "labelPadding": 3, "title": "Wavenumber (cm⁻¹)", "titleFontSize": 17.5, "titlePadding": 2}},
            "y": {"field": "a", "type": "quantitative", "scale": {"domain": [-0.0031, 0.15], "nice": false, "zero": false},
              "axis": {"orient": "left", "values": [0, 0.01, 0.03, 0.05, 0.07, 0.09, 0.11, 0.13, 0.15], "format": ".2f", "labelOverlap": false, "labelFontSize": 17.5, "labelPadding": 3, "title": "A", "titleFontSize": 17, "titleX": -58, "titleY": 198, "titleAngle": 270, "titleBaseline": "middle"}},
            "color": {"field": "s", "type": "nominal",
              "scale": {"domain": ["Pristine", "Dry", "Seawater", "Control"], "range": ["#000000", "#00ff00", "#0000ff", "#ff0000"]},
              "legend": {"title": "Pelletized PA 6.6", "orient": "none", "legendX": 435.7, "legendY": 39.7, "titleFontSize": 17, "titlePadding": 10.8, "labelFontSize": 17, "symbolType": "M-3,0H3", "symbolSize": 123, "symbolStrokeWidth": 2.5, "symbolOffset": 13.2, "labelOffset": 20.9, "rowPadding": 0}}
          }
        },
        {
          "data": {"name": "labL"},
          "mark": {"type": "text", "fontSize": 17, "color": "black", "align": "center", "baseline": "middle"},
          "encoding": {"x": {"field": "w", "type": "quantitative"},
            "y": {"field": "a", "type": "quantitative", "axis": {"orient": "left", "values": [0.02, 0.04, 0.06, 0.08, 0.1, 0.12, 0.14], "labels": false, "domain": false, "title": null}},
            "text": {"field": "t"}}
        },
        {
          "data": {"name": "labLr"},
          "mark": {"type": "text", "fontSize": 17, "color": "black", "align": "center", "baseline": "middle", "angle": 305},
          "encoding": {"x": {"field": "w", "type": "quantitative"}, "y": {"field": "a", "type": "quantitative", "axis": null}, "text": {"field": "t"}}
        }
      ]
    }
  ]
}
